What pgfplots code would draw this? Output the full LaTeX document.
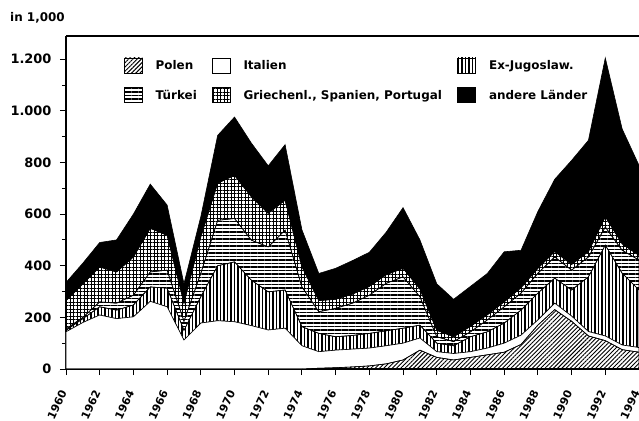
\documentclass[border=0pt]{standalone}
\usepackage{pgfplots}
\pgfplotsset{compat=1.18}
\usepackage{pgfplotstable}
\usetikzlibrary{patterns,patterns.meta}
\usepackage{fontspec}
\setmainfont{DejaVu Sans}

\pgfplotstableread{
year P I J T G A
1960 0 144 6 5 110 70
1961 0 180 15 5 130 80
1962 0 209 32 19 135 95
1963 0 195 33 27 121 124
1964 0 202 46 38 148 166
1965 0 262 56 58 169 171
1966 0 241 72 70 135 117
1967 0 112 38 35 70 75
1968 0 178 102 91 141 78
1969 0 187 213 176 144 185
1970 0 183 232 168 167 226
1971 0 168 176 155 168 208
1972 0 151 148 174 130 184
1973 0 158 148 232 116 215
1974 0 90 74 154 78 143
1975 3 64 71 84 43 105
1976 5 68 52 110 35 120
1977 8 69 53 125 35 130
1978 12 69 57 148 34 132
1979 20 70 58 184 33 165
1980 35 65 58 199 33 235
1981 73 47 50 110 30 190
1982 45 22 33 25 25 180
1983 35 25 30 16 19 145
1984 45 22 58 19 21 155
1985 55 26 63 46 20 160
1986 65 35 78 63 19 194
1987 95 36 97 66 21 145
1988 170 20 104 77 19 220
1989 230 25 97 82 21 280
1990 185 20 101 77 22 403
1991 128 17 212 77 21 431
1992 110 18 352 70 40 615
1993 75 18 278 89 25 445
1994 65 18 223 116 18 349
}\data

\begin{document}
\begin{tikzpicture}
\begin{axis}[
  scale only axis,
  width=573bp, height=333bp,
  xmin=1960, xmax=1994, ymin=0, ymax=1290,
  axis x line=bottom, axis y line=left,
  axis line style={-, line width=1.3pt},
  stack plots=y,
  xtick={1960,1962,...,1994},
  minor x tick num=1,
  ytick={0,200,...,1200},
  minor y tick num=1,
  tick align=outside,
  major tick length=6bp, minor tick length=4bp,
  tick style={black, line width=1pt},
  /pgf/number format/assume math mode=true,
  x tick label style={yshift=-13bp, xshift=-1bp, rotate=65, anchor=east, font=\fontsize{11}{12}\selectfont\bfseries, /pgf/number format/1000 sep={}},
  y tick label style={xshift=-5bp, font=\fontsize{13}{15}\selectfont\bfseries, /pgf/number format/1000 sep={.}},
  legend columns=3,
  legend cell align=left,
  legend style={draw=none, fill=none, inner sep=0pt, at={(0.101,0.936)}, anchor=north west,
    font=\fontsize{12}{14}\selectfont\bfseries, row sep=14bp,
    /tikz/every odd column/.append style={column sep=11bp},
    /tikz/every even column/.append style={column sep=13bp}},
  legend image code/.code={\draw[#1] (0bp,-7bp) rectangle (18bp,8bp);},
]
\addplot[draw=black, line width=0.6pt, pattern={Lines[angle=45, distance=3bp, line width=0.9bp]}] table[x=year, y=P] {\data} \closedcycle;
\addlegendentry{Polen}
\addplot[draw=black, line width=0.6pt, fill=white] table[x=year, y=I] {\data} \closedcycle;
\addlegendentry{Italien}
\addplot[draw=black, line width=0.6pt, pattern={Lines[angle=90, distance=3.5bp, line width=1.1bp]}] table[x=year, y=J] {\data} \closedcycle;
\addlegendentry{Ex-Jugoslaw.}
\addplot[draw=black, line width=0.6pt, pattern={Lines[angle=0, distance=3.5bp, line width=1.1bp]}] table[x=year, y=T] {\data} \closedcycle;
\addlegendentry{Türkei}
\addplot[draw=black, line width=0.6pt, pattern={Hatch[angle=0, distance=3.5bp, line width=0.9bp]}] table[x=year, y=G] {\data} \closedcycle;
\addlegendentry{\makebox[199bp][l]{Griechenl., Spanien, Portugal}}
\addplot[draw=black, line width=0.6pt, fill=black] table[x=year, y=A] {\data} \closedcycle;
\addlegendentry{andere Länder}
\coordinate (bl) at (rel axis cs:0,0);
\coordinate (tl) at (rel axis cs:0,1);
\coordinate (tr) at (rel axis cs:1,1);
\end{axis}
\draw[line width=1.3pt] (tl) -- (tr);
\node[anchor=base west, inner sep=0pt, font=\fontsize{12}{13}\selectfont\bfseries] at ([xshift=-56bp,yshift=14bp]tl) {in 1,000};
\pgfresetboundingbox
\path ([xshift=-66bp,yshift=-52bp]bl) rectangle ([yshift=36bp]tr);
\end{tikzpicture}
\end{document}
